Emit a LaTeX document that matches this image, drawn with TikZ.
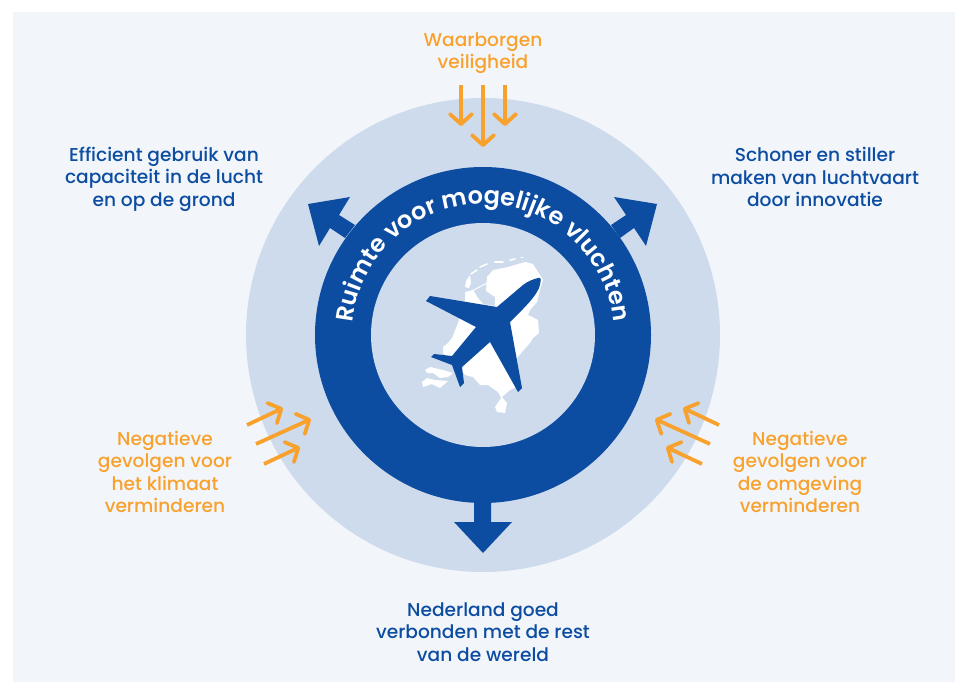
\documentclass[tikz,border=0pt]{standalone}
\usepackage{fontspec}
\setmainfont{Poppins Medium}
\newfontfamily\curvefont{Poppins SemiBold}
\usetikzlibrary{arrows.meta,decorations.text}
\definecolor{panel}{HTML}{F2F6FB}
\definecolor{disc}{HTML}{CEDBEC}
\definecolor{navy}{HTML}{0D4DA1}
\definecolor{amber}{HTML}{F9A12D}
\tikzset{
  lab/.style={align=center,inner sep=0pt,font=\fontsize{18.6}{22.4}\selectfont},
  bluelab/.style={lab,text=navy},
  orangelab/.style={lab,text=amber},
  orangearrow/.style={draw=amber,line width=3.8pt,-{Straight Barb[length=10pt,width=22pt,line width=3.8pt,round=false]}},
  wadden/.style={draw=white,line width=1.6pt,line cap=round},
}
\begin{document}
\begin{tikzpicture}[x=1pt,y=-1pt]
\useasboundingbox (0,0) rectangle (955,682);
\fill[panel] (13,12) rectangle (955,682);
\fill[disc] (483,335) circle[radius=237pt];
% blue arrows behind ring
\fill[navy] (355,225) -- (339,215) -- (350,197) -- (308,204) -- (319,246) -- (330,228) -- (345,238) -- cycle;
\fill[navy] (611,225) -- (626,215) -- (614,197) -- (657,204) -- (646,246) -- (634,228) -- (620,238) -- cycle;
\fill[navy] (474,490) -- (491,490) -- (491,522) -- (512,522) -- (483,553) -- (454,522) -- (474,522) -- cycle;
\fill[navy] (483,335) circle[radius=168pt];
\fill[disc] (483,335) circle[radius=112pt];
% map of the Netherlands
\fill[white] (487,277) -- (493,270) -- (508,267) -- (525,262) -- (533,264) -- (540,275) -- (543,280) -- (540,290) -- (537,302) -- (530,310) -- (528,315) -- (538,320) -- (539,333) -- (533,338) -- (530,343) -- (522,352) -- (517,358) -- (520,385) -- (510,390) -- (502,397) -- (507,403) -- (505,413) -- (497,412) -- (495,407) -- (501,398) -- (498,392) -- (488,385) -- (480,385) -- (473,377) -- (465,375) -- (455,365) -- (443,353) -- (443,347) -- (448,343) -- (452,338) -- (458,323) -- (465,300) -- (465,292) -- (473,290) -- (478,298) -- (483,304) -- (495,306) -- (495,297) -- (486,291) -- cycle;
\fill[white] (425,370) -- (430,367) -- (443,370) -- (453,373) -- (448,377) -- (440,378) -- (433,373) -- (427,373) -- cycle;
\fill[white] (422,382) -- (427,378) -- (435,380) -- (448,381) -- (440,388) -- (432,384) -- (423,387) -- cycle;
\fill[white] (465,287) -- (466,281) -- (470,275) -- (471,283) -- (469,288) -- cycle;
\draw[white,line width=1pt] (470,292) -- (487,283);
\draw[wadden] (471,274) -- (477,270);
\draw[wadden] (480,267) -- (487,264);
\draw[wadden] (495,262) -- (503,262);
\draw[wadden] (510,260) -- (515,259);
\draw[wadden,line width=1pt] (521,257) -- (523,257);
% plane
\fill[navy] (538,278) .. controls (542,276) and (541,282) .. (539,288) .. controls (535,298) and (520,312) .. (510,322) -- (522,388) -- (518,392) -- (490,342) -- (462,367) -- (464,383) -- (460,387) -- (452,365) -- (431,357) -- (434,354) -- (452,356) -- (476,327) -- (426,301) -- (430,296) -- (497,307) -- (523,285) .. controls (528,281) and (534,279) .. (538,278) -- cycle;
% curved title
\begin{scope}[shift={(483pt,-335pt)},x=1pt,y=1pt]
\path[decorate,decoration={text along path,text align=center,text={|\fontsize{24}{24}\curvefont\color{white}|Ruimte voor mogelijke vluchten}}]
  (178:131) arc[start angle=178,end angle=2,radius=131pt];
\end{scope}
% orange arrows
\coordinate (t1a) at (461,85); \coordinate (t1b) at (461,126);
\coordinate (t2a) at (483,85); \coordinate (t2b) at (483,147);
\coordinate (t3a) at (505,85); \coordinate (t3b) at (505,126);
\coordinate (l1a) at (247,425); \coordinate (l1b) at (283,408);
\coordinate (l2a) at (256,444); \coordinate (l2b) at (311,419);
\coordinate (l3a) at (264,464); \coordinate (l3b) at (300,447);
\coordinate (r1a) at (719,425); \coordinate (r1b) at (683,408);
\coordinate (r2a) at (710,444); \coordinate (r2b) at (655,419);
\coordinate (r3a) at (702,464); \coordinate (r3b) at (666,447);
\foreach \n in {t1,t2,t3,l1,l2,l3,r1,r2,r3}{\draw[orangearrow] (\n a) -- (\n b);}
% labels
\node[orangelab] (safety) at (483,53) {Waarborgen\\veiligheid};
\node[bluelab] (capacity) at (164,179) {Efficient gebruik van\\capaciteit in de lucht\\en op de grond};
\node[bluelab] (clean) at (815,177) {Schoner en stiller\\maken van luchtvaart\\door innovatie};
\node[orangelab] (climate) at (165,472) {Negatieve\\gevolgen voor\\het klimaat\\verminderen};
\node[orangelab] (env) at (800,472) {Negatieve\\gevolgen voor\\de omgeving\\verminderen};
\node[bluelab] (world) at (483,632) {Nederland goed\\verbonden met de rest\\van de wereld};
\end{tikzpicture}
\end{document}
